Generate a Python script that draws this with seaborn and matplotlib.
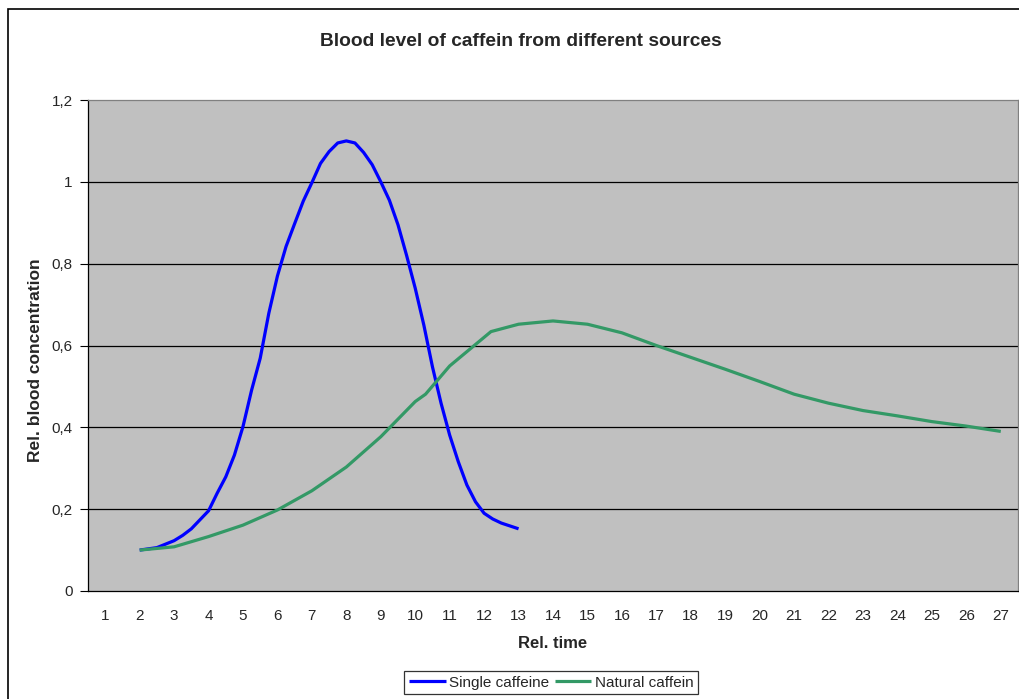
import matplotlib
matplotlib.use("Agg")
import matplotlib.pyplot as plt
from matplotlib.patches import Rectangle
import seaborn as sns
import pandas as pd

# ---- data ----
categories = list(range(1, 28))
tick_labels = [str(c) for c in categories]
y_ticks = [0, 0.2, 0.4, 0.6, 0.8, 1.0, 1.2]
y_tick_labels = ["0", "0,2", "0,4", "0,6", "0,8", "1", "1,2"]

single_x = [2, 2.5, 3, 3.25, 3.5, 3.75, 4, 4.25, 4.5, 4.75, 5, 5.25, 5.5,
            5.75, 6, 6.25, 6.5, 6.75, 7, 7.25, 7.5, 7.75, 8, 8.25, 8.5, 8.75,
            9, 9.25, 9.5, 9.75, 10, 10.25, 10.5, 10.75, 11, 11.25, 11.5,
            11.75, 12, 12.25, 12.5, 12.75, 13]
single_y = [0.100, 0.106, 0.123, 0.136, 0.152, 0.174, 0.196, 0.239, 0.279,
            0.332, 0.402, 0.491, 0.569, 0.679, 0.770, 0.842, 0.898, 0.953,
            0.998, 1.045, 1.074, 1.095, 1.100, 1.095, 1.072, 1.042, 1.000,
            0.955, 0.895, 0.820, 0.740, 0.650, 0.548, 0.459, 0.381, 0.316,
            0.259, 0.218, 0.190, 0.176, 0.166, 0.159, 0.152]

natural_x = [2, 3, 4, 5, 6, 7, 8, 9, 10, 10.3, 11, 12.2, 13, 14, 15, 16, 17,
             18, 19, 20, 21, 22, 23, 24, 25, 26, 27]
natural_y = [0.100, 0.108, 0.133, 0.161, 0.198, 0.245, 0.303, 0.377, 0.463,
             0.481, 0.550, 0.634, 0.652, 0.660, 0.652, 0.631, 0.600, 0.571,
             0.542, 0.512, 0.481, 0.459, 0.441, 0.428, 0.414, 0.403, 0.390]

series_names = ["Single caffeine", "Natural caffein"]
title = "Blood level of caffein from different sources"

# ---- style ----
sns.set_style("white")
plt.rcParams["font.family"] = ["Liberation Sans", "DejaVu Sans"]

W, H = 1019, 699
fig = plt.figure(figsize=(W / 100, H / 100), dpi=100)
ax = fig.add_axes([88 / W, (H - 591) / H, 930 / W, 491 / H])
ax.set_facecolor("#C0C0C0")

df_single = pd.DataFrame({"x": single_x, "y": single_y})
df_natural = pd.DataFrame({"x": natural_x, "y": natural_y})
sns.lineplot(data=df_single, x="x", y="y", ax=ax, color="#0000FF", lw=2.3,
             sort=False, estimator=None, label=series_names[0], legend=False)
sns.lineplot(data=df_natural, x="x", y="y", ax=ax, color="#339966", lw=2.3,
             sort=False, estimator=None, label=series_names[1], legend=False)
for ln in ax.get_lines():
    ln.set_solid_joinstyle("round")
    ln.set_solid_capstyle("butt")

ax.set_xlim(0.5, 27.5)
ax.set_ylim(0, 1.2)

# grid lines
for v in y_ticks[1:-1]:
    ax.axhline(v, color="black", lw=0.9, zorder=0.5)

ax.set_yticks(y_ticks)
ax.set_yticklabels(y_tick_labels, fontsize=11)
ax.set_xticks(categories)
ax.set_xticklabels(tick_labels, fontsize=11)
ax.set_xticks([c + 0.5 for c in [0] + categories], minor=True)
ax.tick_params(axis="x", which="major", length=0, pad=13)
ax.tick_params(axis="x", which="minor", length=5, width=0.8, color="black")
ax.tick_params(axis="y", which="major", length=6, width=0.8, color="black", pad=5,
               left=True)

for s in ["top", "right"]:
    ax.spines[s].set_color("#808080")
    ax.spines[s].set_linewidth(0.9)
for s in ["left", "bottom"]:
    ax.spines[s].set_color("black")
    ax.spines[s].set_linewidth(0.9)

ax.set_xlabel("Rel. time", fontsize=12, fontweight="bold", labelpad=9)
ax.set_ylabel("Rel. blood concentration", fontsize=12.5, fontweight="bold")
ax.yaxis.set_label_coords(-0.048, 0.47)

fig.text(521 / W, 1 - 42 / H, title, ha="center", va="center",
         fontsize=13.8, fontweight="bold")

handles, labels = ax.get_legend_handles_labels()
leg = fig.legend(handles, labels, loc="upper center", bbox_to_anchor=(551 / W, (H - 671) / H),
                 ncol=2, frameon=True, fancybox=False, fontsize=11,
                 handlelength=2.4, handletextpad=0.2, columnspacing=0.4,
                 borderpad=0.3, borderaxespad=0)
leg.get_frame().set_edgecolor("black")
leg.get_frame().set_linewidth(0.9)

fig.add_artist(Rectangle((8 / W, -0.1), 1.2, (H - 9) / H + 0.1,
                         transform=fig.transFigure, fill=False,
                         ec="black", lw=1.2))

fig.savefig("out.png", dpi=100)
